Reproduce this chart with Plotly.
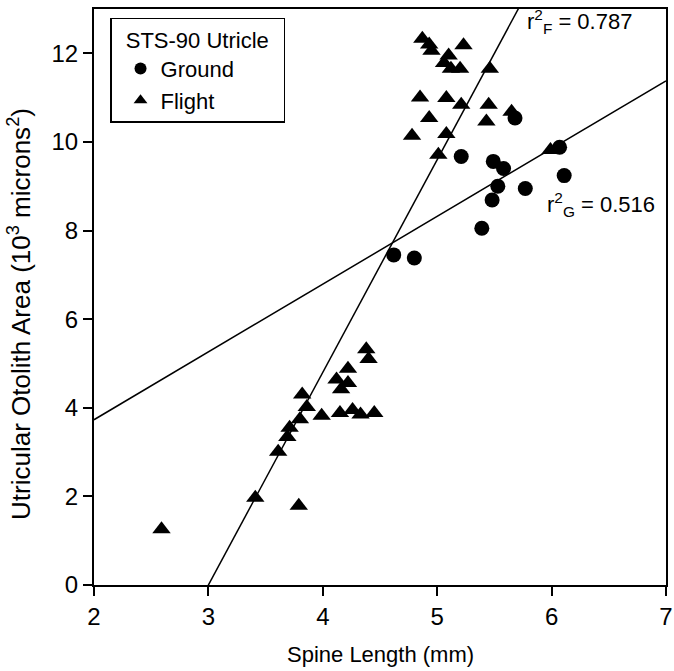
import plotly.graph_objects as go

# Ground (circles)
ground_x = [5.68, 5.21, 5.49, 5.58, 5.53, 5.77, 5.48, 5.39, 4.62, 4.80, 6.07, 6.11]
ground_y = [10.54, 9.67, 9.56, 9.40, 9.00, 8.95, 8.69, 8.05, 7.45, 7.38, 9.88, 9.24]

# Flight (triangles)
flight_x = [4.87, 4.93, 4.95, 5.23, 5.10, 5.06, 5.12, 5.20, 5.46, 4.85, 5.08, 5.21,
            5.45, 5.65, 4.93, 5.43, 4.78, 5.08, 5.01, 5.99,
            4.38, 4.40, 4.22, 4.12, 4.22, 4.16, 3.82, 3.86, 3.99, 4.15, 4.26, 4.33,
            4.45, 3.80, 3.71, 3.69, 3.61, 3.41, 3.79, 2.59]
flight_y = [12.33, 12.20, 12.06, 12.18, 11.95, 11.78, 11.65, 11.65, 11.65, 11.00, 10.99, 10.84,
            10.84, 10.68, 10.54, 10.46, 10.14, 10.18, 9.71, 9.82,
            5.32, 5.10, 4.88, 4.64, 4.56, 4.42, 4.30, 4.02, 3.82, 3.88, 3.95, 3.85,
            3.88, 3.74, 3.55, 3.34, 3.01, 1.97, 1.79, 1.26]

# Regression fits (slope, intercept)
fit_flight = (4.80, -14.40)
fit_ground = (1.53, 0.67)
fit_x_range = [2, 7]

x_ticks = [2, 3, 4, 5, 6, 7]
y_ticks = [0, 2, 4, 6, 8, 10, 12]

FONT = "Liberation Sans, Arial, sans-serif"
NB = "\u00a0"

fig = go.Figure()

def line_pts(fit):
    m, b = fit
    return fit_x_range, [m * x + b for x in fit_x_range]

lx, ly = line_pts(fit_flight)
fig.add_trace(go.Scatter(x=lx, y=ly, mode="lines", line=dict(color="black", width=1.5),
                         showlegend=False, hoverinfo="skip"))
lx, ly = line_pts(fit_ground)
fig.add_trace(go.Scatter(x=lx, y=ly, mode="lines", line=dict(color="black", width=1.5),
                         showlegend=False, hoverinfo="skip"))

fig.add_trace(go.Scatter(x=ground_x, y=ground_y, mode="markers", name="Ground",
                         marker=dict(symbol="circle", size=15, color="black")))
fig.add_trace(go.Scatter(x=flight_x, y=flight_y, mode="markers", name="Flight",
                         marker=dict(symbol="triangle-up", size=16, color="black")))

fig.add_annotation(x=5.77, y=12.72, xref="x", yref="y", showarrow=False,
                   text="r<sup>2</sup><sub>F</sub> = 0.787", xanchor="left", yanchor="middle",
                   font=dict(family=FONT, size=22, color="black"))
fig.add_annotation(x=5.94, y=8.58, xref="x", yref="y", showarrow=False,
                   text="r<sup>2</sup><sub>G</sub> = 0.516", xanchor="left", yanchor="middle",
                   font=dict(family=FONT, size=22, color="black"))

# axis titles as annotations for precise placement
fig.add_annotation(x=-0.13, y=0.47, xref="paper", yref="paper", showarrow=False,
                   text="Utricular Otolith Area (10<sup>3</sup> microns<sup>2</sup>)",
                   textangle=-90, xanchor="center", yanchor="middle",
                   font=dict(family=FONT, size=26, color="black"))
fig.add_annotation(x=0.5, y=-0.12, xref="paper", yref="paper", showarrow=False,
                   text="Spine Length (mm)", xanchor="center", yanchor="middle",
                   font=dict(family=FONT, size=22, color="black"))

axis_common = dict(showline=True, linecolor="black", linewidth=2, mirror=True,
                   ticks="outside", ticklen=9, tickwidth=1.5, tickcolor="black",
                   showgrid=False, zeroline=False, automargin=False,
                   tickfont=dict(family=FONT, size=24, color="black"))

fig.update_xaxes(range=[2, 7], tickvals=x_ticks, **axis_common)
fig.update_yaxes(range=[0, 13], tickvals=y_ticks, **axis_common)

fig.update_layout(
    width=674, height=671,
    margin=dict(l=94, r=8, t=9, b=86),
    plot_bgcolor="white", paper_bgcolor="white",
    font=dict(family=FONT, color="black"),
    legend=dict(x=0.028, y=0.985, xanchor="left", yanchor="top",
                bordercolor="black", borderwidth=1.5, bgcolor="white",
                title=dict(text=NB * 2 + "STS-90 Utricle" + NB * 2,
                           font=dict(family=FONT, size=22, color="black"), side="top"),
                font=dict(family=FONT, size=22, color="black"),
                indentation=9,
                itemsizing="constant", tracegroupgap=0),
)

fig.write_html("out.html")
